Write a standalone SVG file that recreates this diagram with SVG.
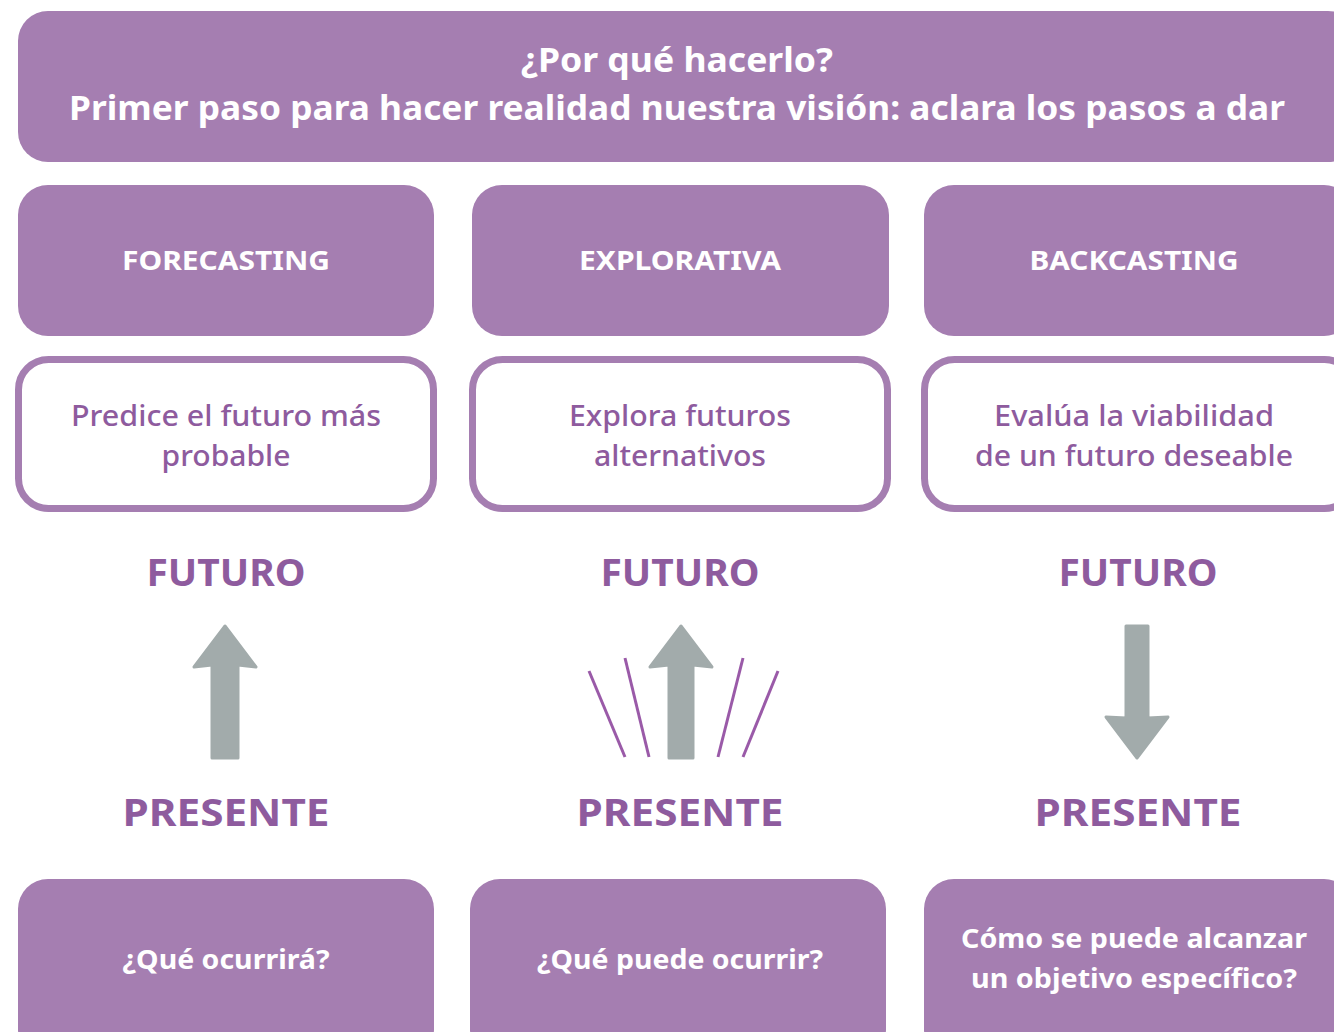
<svg xmlns="http://www.w3.org/2000/svg" width="1334" height="1032" viewBox="0 0 1334 1032">
<style>
.fill{fill:#A57EB1}
.out{fill:#fff;stroke:#A57EB1;stroke-width:7}
text{font-family:"Noto Sans","Open Sans","Liberation Sans",sans-serif;text-anchor:middle}
.title{font-size:34px;font-weight:700;fill:#fff}
.hdr{font-size:26px;font-weight:700;fill:#fff}
.desc{font-size:29px;font-weight:500;fill:#8E5B9E}
.big{font-size:38px;font-weight:700;fill:#8E5B9E}
.q{font-size:27px;font-weight:700;fill:#fff}
.arr{fill:#A2ABAB;stroke:#A2ABAB;stroke-width:3;stroke-linejoin:round}
.ray{stroke:#9A5AA8;stroke-width:3;fill:none}
</style>
<rect width="1334" height="1032" fill="#fff"/>
<g id="title">
<rect class="fill" x="18" y="11" width="1340" height="151" rx="30"/>
<text class="title" x="677" y="72" textLength="312" lengthAdjust="spacingAndGlyphs">¿Por qué hacerlo?</text>
<text class="title" x="677" y="120" textLength="1216" lengthAdjust="spacingAndGlyphs">Primer paso para hacer realidad nuestra visión: aclara los pasos a dar</text>
</g>
<g id="h-forecasting"><rect class="fill" x="18" y="185" width="416" height="151" rx="30"/><text class="hdr" x="226" y="270" textLength="208" lengthAdjust="spacingAndGlyphs">FORECASTING</text></g>
<g id="h-explorativa"><rect class="fill" x="472" y="185" width="417" height="151" rx="30"/><text class="hdr" x="680" y="270" textLength="202" lengthAdjust="spacingAndGlyphs">EXPLORATIVA</text></g>
<g id="h-backcasting"><rect class="fill" x="924" y="185" width="430" height="151" rx="30"/><text class="hdr" x="1134" y="270" textLength="209" lengthAdjust="spacingAndGlyphs">BACKCASTING</text></g>
<g id="d-forecasting"><rect class="out" x="18.5" y="359.5" width="415" height="149" rx="30"/><text class="desc" x="226" y="426" textLength="310" lengthAdjust="spacingAndGlyphs">Predice el futuro más</text><text class="desc" x="226" y="466" textLength="129" lengthAdjust="spacingAndGlyphs">probable</text></g>
<g id="d-explorativa"><rect class="out" x="472.5" y="359.5" width="415" height="149" rx="30"/><text class="desc" x="680" y="426" textLength="222" lengthAdjust="spacingAndGlyphs">Explora futuros</text><text class="desc" x="680" y="466" textLength="172" lengthAdjust="spacingAndGlyphs">alternativos</text></g>
<g id="d-backcasting"><rect class="out" x="924.5" y="359.5" width="430" height="149" rx="30"/><text class="desc" x="1134" y="426" textLength="280" lengthAdjust="spacingAndGlyphs">Evalúa la viabilidad</text><text class="desc" x="1134" y="466" textLength="318" lengthAdjust="spacingAndGlyphs">de un futuro deseable</text></g>
<g id="c1">
<text class="big" x="226" y="586" textLength="159" lengthAdjust="spacingAndGlyphs">FUTURO</text>
<path class="arr" d="M225,626 L256,667 L238,665 L238,758 L212,758 L212,665 L194,667 Z"/>
<text class="big" x="226" y="826" textLength="207" lengthAdjust="spacingAndGlyphs">PRESENTE</text>
</g>
<g id="c2">
<text class="big" x="680" y="586" textLength="159" lengthAdjust="spacingAndGlyphs">FUTURO</text>
<g>
<line class="ray" x1="589" y1="671" x2="625" y2="757"/>
<line class="ray" x1="625" y1="658" x2="649" y2="757"/>
<line class="ray" x1="743" y1="658" x2="718" y2="757"/>
<line class="ray" x1="778" y1="671" x2="743" y2="757"/>
</g>
<path class="arr" d="M681,626 L712,667 L693,665 L693,758 L669,758 L669,665 L650,667 Z"/>
<text class="big" x="680" y="826" textLength="207" lengthAdjust="spacingAndGlyphs">PRESENTE</text>
</g>
<g id="c3">
<text class="big" x="1138" y="586" textLength="159" lengthAdjust="spacingAndGlyphs">FUTURO</text>
<path class="arr" d="M1126,626 L1148,626 L1148,718 L1168,717 L1137,758 L1106,717 L1126,718 Z"/>
<text class="big" x="1138" y="826" textLength="207" lengthAdjust="spacingAndGlyphs">PRESENTE</text>
</g>
<g id="q-forecasting"><rect class="fill" x="18" y="879" width="416" height="180" rx="30"/><text class="q" x="226" y="969" textLength="207" lengthAdjust="spacingAndGlyphs">¿Qué ocurrirá?</text></g>
<g id="q-explorativa"><rect class="fill" x="470" y="879" width="416" height="180" rx="30"/><text class="q" x="680" y="969" textLength="286" lengthAdjust="spacingAndGlyphs">¿Qué puede ocurrir?</text></g>
<g id="q-backcasting"><rect class="fill" x="924" y="879" width="430" height="180" rx="30"/><text class="q" x="1134" y="948" textLength="346" lengthAdjust="spacingAndGlyphs">Cómo se puede alcanzar</text><text class="q" x="1134" y="988" textLength="326" lengthAdjust="spacingAndGlyphs">un objetivo específico?</text></g>
</svg>
